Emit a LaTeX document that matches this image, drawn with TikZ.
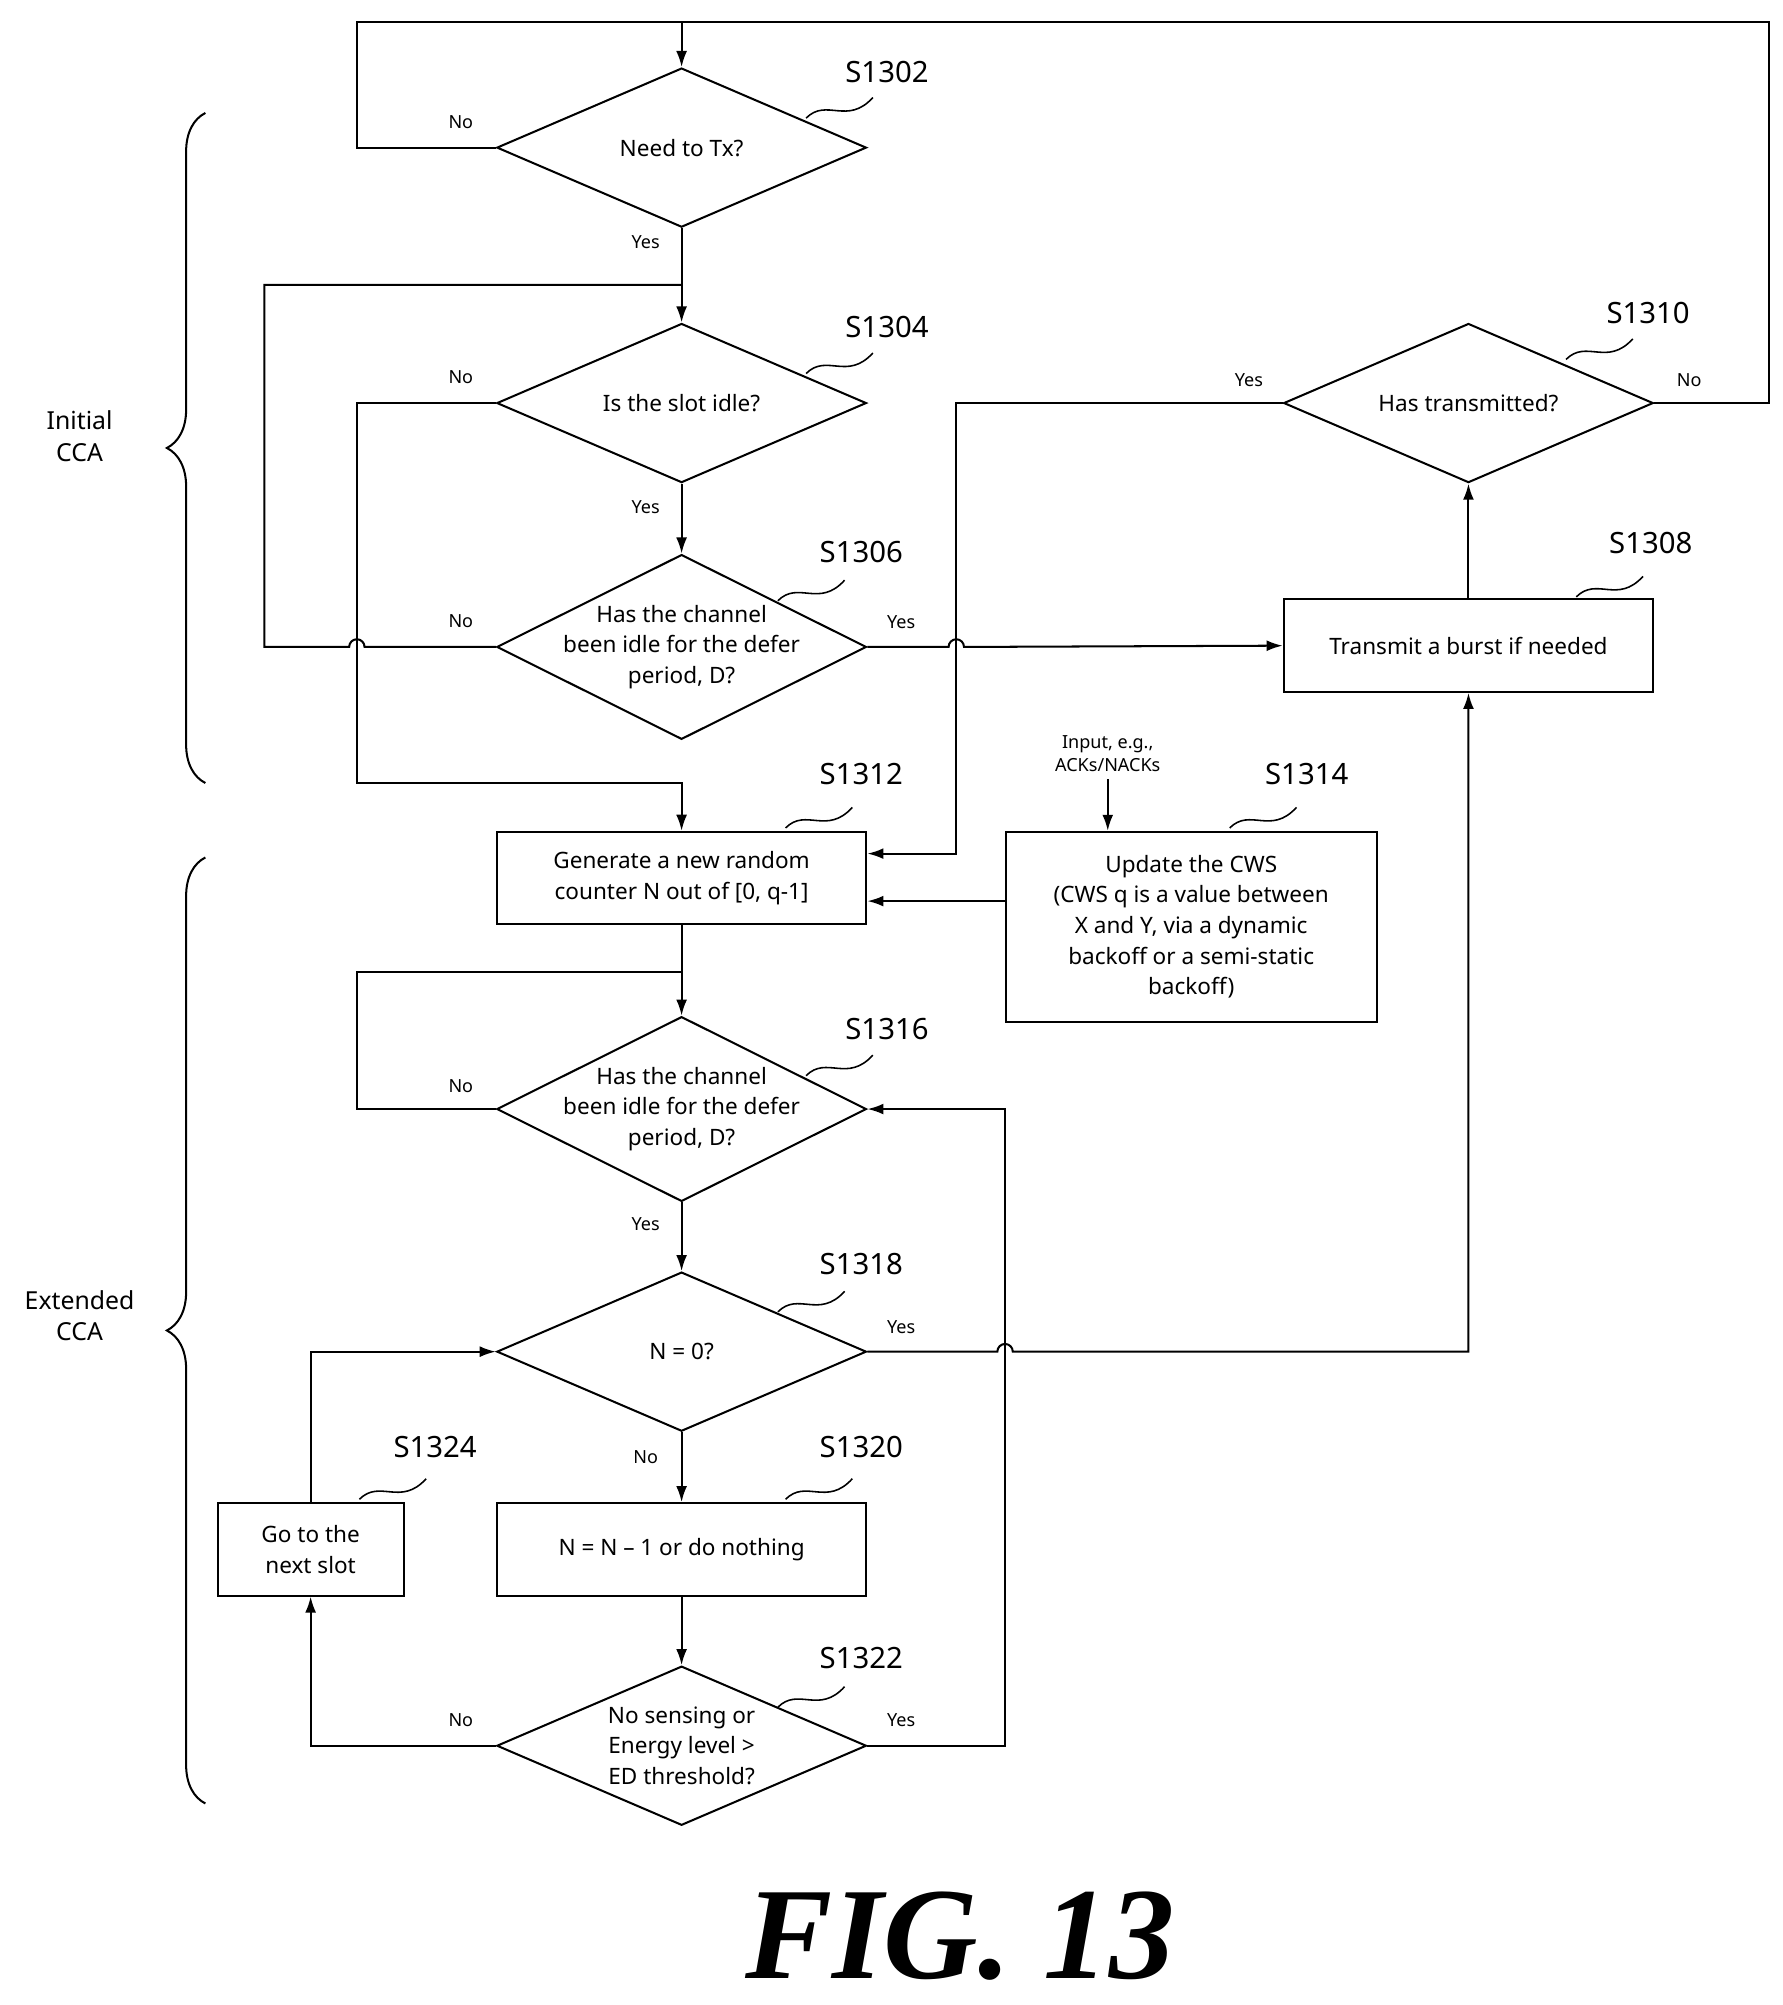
\documentclass[tikz,border=0pt]{standalone}
\usepackage{fontspec}
\setmainfont{Noto Sans}
\newfontfamily\figfont{Liberation Serif}
\usetikzlibrary{shapes.geometric,arrows.meta,decorations.pathreplacing}
\tikzset{
  dia/.style={draw, line width=0.9pt, diamond, inner sep=0pt, minimum width=5.76cm, minimum height=2.48cm},
  tall/.style={minimum height=2.88cm},
  box/.style={draw, line width=0.9pt, minimum width=5.76cm, minimum height=1.44cm, align=center, inner sep=0pt, font=\fontsize{10}{13.6}\selectfont},
  txt/.style={align=center, font=\fontsize{10}{13.6}\selectfont},
  yn/.style={font=\fontsize{8}{9}\selectfont},
  steplbl/.style={font=\fontsize{13}{14}\selectfont},
  line/.style={line width=0.9pt},
  arr/.style={line width=0.9pt, -{Latex[length=0.25cm,width=0.17cm]}},
  sq/.style={line width=0.7pt}
}
\newcommand{\squig}[1]{\draw[sq] (#1) .. controls +(16,-16) and +(-20,22) .. +(52,-16);}
\begin{document}
\begin{tikzpicture}[x=0.02cm, y=-0.02cm]
  \useasboundingbox (0,0) rectangle (1389,1562);
  % decisions
  \node[dia] (s1302) at (531,115) {};
  \node[txt] (s1302t) at (s1302) {Need to Tx?};
  \node[dia] (s1304) at (531,314) {};
  \node[txt] (s1304t) at (s1304) {Is the slot idle?};
  \node[dia, tall] (s1306) at (531,504) {};
  \node[txt] (s1306t) at (s1306) {Has the channel\\been idle for the defer\\period, D?};
  \node[dia] (s1310) at (1144,314) {};
  \node[txt] (s1310t) at (s1310) {Has transmitted?};
  \node[dia, tall] (s1316) at (531,864) {};
  \node[txt] (s1316t) at (s1316) {Has the channel\\been idle for the defer\\period, D?};
  \node[dia] (s1318) at (531,1053) {};
  \node[txt] (s1318t) at (s1318) {N = 0?};
  \node[dia] (s1322) at (531,1360) {};
  \node[txt] (s1322t) at (s1322) {No sensing or\\Energy level >\\ED threshold?};
  % boxes
  \node[box] (s1308) at (1144,503) {Transmit a burst if needed};
  \node[box] (s1312) at (531,684) {Generate a new random\\counter N out of [0, q-1]};
  \node[box, minimum width=5.78cm, minimum height=2.96cm] (s1314) at (928,722) {Update the CWS\\(CWS q is a value between\\X and Y, via a dynamic\\backoff or a semi-static\\backoff)};
  \node[box] (s1320) at (531,1207) {N = N -- 1 or do nothing};
  \node[box, minimum width=2.9cm] (s1324) at (242,1207) {Go to the\\next slot};
  \node[align=center, font=\fontsize{8}{10}\selectfont] (inp) at (863,587) {Input, e.g.,\\ACKs/NACKs};
  % step labels
  \foreach \n/\x/\y/\sx/\sy in {S1302/691/56/628/92, S1304/691/255/628/291, S1306/671/430/606/468,
    S1310/1284/244/1220/280, S1308/1286/423/1228/465, S1312/671/603/612/645, S1314/1018/603/958/645,
    S1316/691/802/628/838, S1318/671/985/606/1022, S1320/671/1127/612/1168, S1322/671/1292/606/1330,
    S1324/339/1127/280/1168}{
    \node[steplbl] at (\x,\y) {\n};
    \squig{\sx,\sy}
  }
  % yes/no
  \foreach \t/\x/\y in {No/359/95, Yes/503/189, No/359/294, Yes/503/395, No/359/484, Yes/702/485,
    Yes/973/296, No/1316/296, No/359/846, Yes/503/954, Yes/702/1034, No/503/1135, No/359/1340, Yes/702/1340}
    \node[yn] at (\x,\y) {\t};
  % connectors
  \coordinate (tl) at (278,17);
  \coordinate (tr) at (1378,17);
  \coordinate (l1) at (206,222);
  \coordinate (l2) at (278,610);
  \coordinate (l3) at (278,757);
  \coordinate (r1) at (745,665);
  \coordinate (r2) at (1144,1053);
  \coordinate (r3) at (783,864);
  \coordinate (c1) at (0,702);
  \draw[arr] (s1302.west) -| (tl) -| (s1302.north);
  \draw[line] (s1310.east) -| (tr) -- (tl);
  \draw[arr] (s1302.south) -- (s1304.north);
  \draw[line] (s1306.west) -- (284,504) arc[start angle=0, end angle=180, radius=0.12cm] -- (206,504) -- (l1) -- (l1 -| s1302.south);
  \draw[arr] (s1304.west) -| (l2) -| (s1312.north);
  \draw[arr] (s1304.south) -- (s1306.north);
  \draw[arr] (s1306.east) -- (739,504) arc[start angle=180, end angle=0, radius=0.12cm] -- (s1308.west);
  \draw[arr] (s1308.north) -- (s1310.south);
  \draw[arr] (s1310.west) -| (r1) -- (s1312.east |- r1);
  \draw[arr] (inp.south) -- (inp.south |- s1314.north);
  \draw[arr] (s1314.west |- c1) -- (s1312.east |- c1);
  \draw[arr] (s1312.south) -- (s1316.north);
  \draw[line] (s1316.west) -| (l3) -- (l3 -| s1316.north);
  \draw[arr] (s1316.south) -- (s1318.north);
  \draw[arr] (s1318.east) -- (777,1053) arc[start angle=180, end angle=0, radius=0.12cm] -- (r2) -- (s1308.south);
  \draw[arr] (s1318.south) -- (s1320.north);
  \draw[arr] (s1320.south) -- (s1322.north);
  \draw[arr] (s1322.east) -| (r3) -- (s1316.east);
  \draw[arr] (s1322.west) -| (s1324.south);
  \draw[arr] (s1324.north) |- (s1318.west);
  % braces
  \draw[line, decorate, decoration={brace, amplitude=0.6cm}] (160,610) -- (160,88);
  \draw[line, decorate, decoration={brace, amplitude=0.6cm}] (160,1405) -- (160,668);
  \node[align=center, font=\fontsize{11}{14}\selectfont] (ini) at (62,340) {Initial\\CCA};
  \node[align=center, font=\fontsize{11}{14}\selectfont] (ext) at (62,1025) {Extended\\CCA};
  \node[font=\figfont\bfseries\itshape\fontsize{58}{60}\selectfont] (fig) at (748,1508) {FIG. 13};
\end{tikzpicture}
\end{document}
